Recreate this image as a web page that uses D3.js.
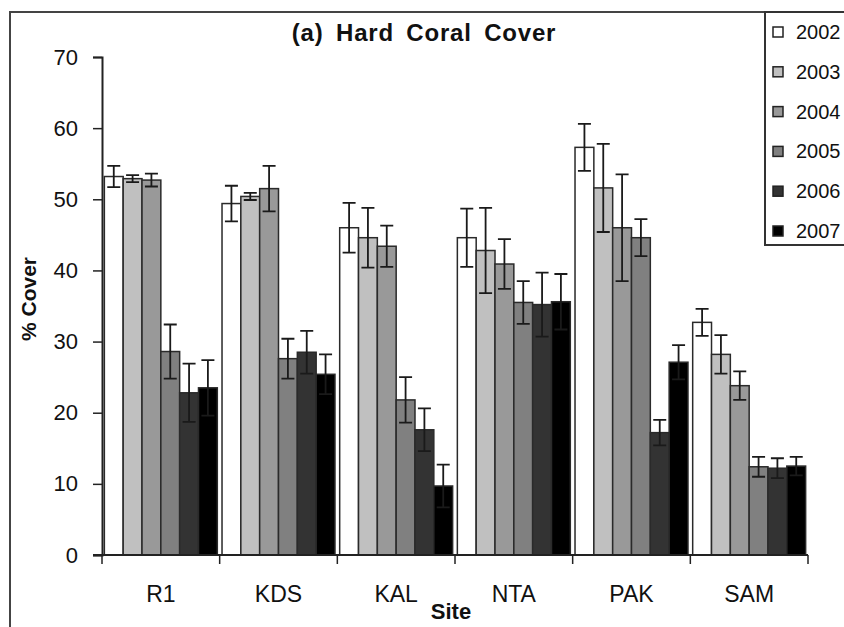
<!DOCTYPE html>
<html>
    <head>
        <meta charset="utf-8">
        <style>
          body { margin: 0; background: #fff; }
          text { font-family: Arial, "Liberation Sans", sans-serif; fill: #111; }
        </style>
    </head>
    <body>
        <svg width="844" height="627"></svg>
        <script src="https://cdn.jsdelivr.net/npm/d3@7"></script>
        <script>
          // sites and years
          var sites = ["R1", "KDS", "KAL", "NTA", "PAK", "SAM"];
          var years = ["2002", "2003", "2004", "2005", "2006", "2007"];
          var yTicks = [0, 10, 20, 30, 40, 50, 60, 70];

          // mean % cover per year (one value per site)
          var cover2002 = [53.2, 49.4, 46.0, 44.6, 57.3, 32.7];
          var cover2003 = [52.9, 50.4, 44.6, 42.8, 51.6, 28.2];
          var cover2004 = [52.7, 51.5, 43.4, 40.9, 46.0, 23.8];
          var cover2005 = [28.6, 27.6, 21.8, 35.5, 44.6, 12.4];
          var cover2006 = [22.8, 28.5, 17.6, 35.2, 17.2, 12.2];
          var cover2007 = [23.5, 25.4, 9.7, 35.6, 27.1, 12.5];

          // standard error per year
          var err2002 = [1.5, 2.5, 3.5, 4.1, 3.3, 1.9];
          var err2003 = [0.5, 0.5, 4.2, 6.0, 6.2, 2.7];
          var err2004 = [0.9, 3.2, 2.9, 3.5, 7.5, 2.0];
          var err2005 = [3.8, 2.8, 3.2, 3.0, 2.6, 1.4];
          var err2006 = [4.1, 3.0, 3.0, 4.5, 1.8, 1.4];
          var err2007 = [3.9, 2.8, 3.0, 3.9, 2.4, 1.3];

          var colors = ["#ffffff", "#c0c0c0", "#999999", "#808080", "#333333", "#000000"];

          var covers = [cover2002, cover2003, cover2004, cover2005, cover2006, cover2007];
          var errs = [err2002, err2003, err2004, err2005, err2006, err2007];

          var data = [];
          sites.forEach(function(s, i) {
            years.forEach(function(yr, j) {
              data.push({site: s, year: yr, value: covers[j][i], err: errs[j][i], color: colors[j]});
            });
          });

          var svg = d3.select("svg");

          // outer chart frame (runs off the right and bottom edge)
          svg.append("rect")
            .attr("x", 10).attr("y", 12)
            .attr("width", 900).attr("height", 700)
            .attr("fill", "none")
            .attr("stroke", "#444")
            .attr("stroke-width", 2);

          var plotLeft = 102, plotRight = 808, plotTop = 57, plotBottom = 555;

          var x0 = d3.scaleBand()
            .domain(sites)
            .range([plotLeft, plotRight])
            .paddingInner(0.04)
            .paddingOuter(0.02);

          var x1 = d3.scaleBand()
            .domain(years)
            .range([0, x0.bandwidth()]);

          var y = d3.scaleLinear()
            .domain([0, 70])
            .range([plotBottom, plotTop]);

          // bars
          var bars = svg.append("g");
          bars.selectAll("rect")
            .data(data)
            .enter().append("rect")
            .attr("x", function(d) { return x0(d.site) + x1(d.year); })
            .attr("y", function(d) { return y(d.value); })
            .attr("width", x1.bandwidth())
            .attr("height", function(d) { return y(0) - y(d.value); })
            .attr("fill", function(d) { return d.color; })
            .attr("stroke", "#2a2a2a")
            .attr("stroke-width", 1.5);

          // error bars
          var eb = svg.append("g")
            .attr("stroke", "#1a1a1a")
            .attr("stroke-width", 1.8)
            .attr("fill", "none");

          eb.selectAll("path")
            .data(data)
            .enter().append("path")
            .attr("d", function(d) {
              var cx = x0(d.site) + x1(d.year) + x1.bandwidth() / 2;
              var hi = y(d.value + d.err), lo = y(d.value - d.err);
              var w = 6.5;
              return "M" + (cx - w) + "," + hi + "H" + (cx + w) +
                     "M" + cx + "," + hi + "V" + lo +
                     "M" + (cx - w) + "," + lo + "H" + (cx + w);
            });

          // y axis
          var yAxis = d3.axisLeft(y).tickValues(yTicks).tickSize(9).tickPadding(15);
          var gy = svg.append("g")
            .attr("transform", "translate(" + plotLeft + ",0)")
            .call(yAxis);
          gy.select(".domain").attr("stroke", "#222").attr("stroke-width", 2);
          gy.selectAll(".tick line").attr("stroke", "#222").attr("stroke-width", 1.5);
          gy.selectAll("text")
            .style("font-size", "22px")
            .attr("fill", "#222");

          // x axis: ticks on category boundaries
          var gx = svg.append("g")
            .attr("transform", "translate(0," + plotBottom + ")");
          gx.append("line")
            .attr("x1", plotLeft - 9).attr("x2", plotRight)
            .attr("stroke", "#222").attr("stroke-width", 2);
          var bounds = sites.map(function(s) { return x0(s) - x0.step() * x0.paddingInner() / 2; });
          bounds[0] = plotLeft;
          bounds.push(plotRight);
          gx.selectAll(".bt")
            .data(bounds)
            .enter().append("line")
            .attr("x1", function(d) { return d; })
            .attr("x2", function(d) { return d; })
            .attr("y1", 0).attr("y2", 9)
            .attr("stroke", "#222").attr("stroke-width", 1.5);
          gx.selectAll(".lab")
            .data(sites)
            .enter().append("text")
            .attr("x", function(d) { return x0(d) + x0.bandwidth() / 2; })
            .attr("y", 47)
            .attr("text-anchor", "middle")
            .style("font-size", "23px")
            .attr("fill", "#222")
            .text(function(d) { return d; });

          // titles
          svg.append("text")
            .attr("x", 424).attr("y", 41)
            .attr("text-anchor", "middle")
            .style("font-size", "24px")
            .style("font-weight", "bold")
            .style("letter-spacing", "0.8px")
            .style("word-spacing", "5px")
            .text("(a) Hard Coral Cover");

          svg.append("text")
            .attr("x", 451).attr("y", 619)
            .attr("text-anchor", "middle")
            .style("font-size", "22px")
            .style("font-weight", "bold")
            .text("Site");

          svg.append("text")
            .attr("transform", "translate(36,299) rotate(-90)")
            .attr("text-anchor", "middle")
            .style("font-size", "21px")
            .style("font-weight", "bold")
            .text("% Cover");

          // legend
          var legend = svg.append("g");
          legend.append("rect")
            .attr("x", 765).attr("y", 12)
            .attr("width", 120).attr("height", 233)
            .attr("fill", "#fff")
            .attr("stroke", "#333")
            .attr("stroke-width", 2);

          var item = legend.selectAll(".item")
            .data(years)
            .enter().append("g")
            .attr("transform", function(d, i) { return "translate(773," + (32 + i * 39.8) + ")"; });
          item.append("rect")
            .attr("x", 0).attr("y", -5)
            .attr("width", 10).attr("height", 10)
            .attr("fill", function(d, i) { return colors[i]; })
            .attr("stroke", "#222")
            .attr("stroke-width", 1.5);
          item.append("text")
            .attr("x", 23).attr("y", 7)
            .style("font-size", "20px")
            .attr("fill", "#222")
            .text(function(d) { return d; });
        </script>
    </body>
</html>
